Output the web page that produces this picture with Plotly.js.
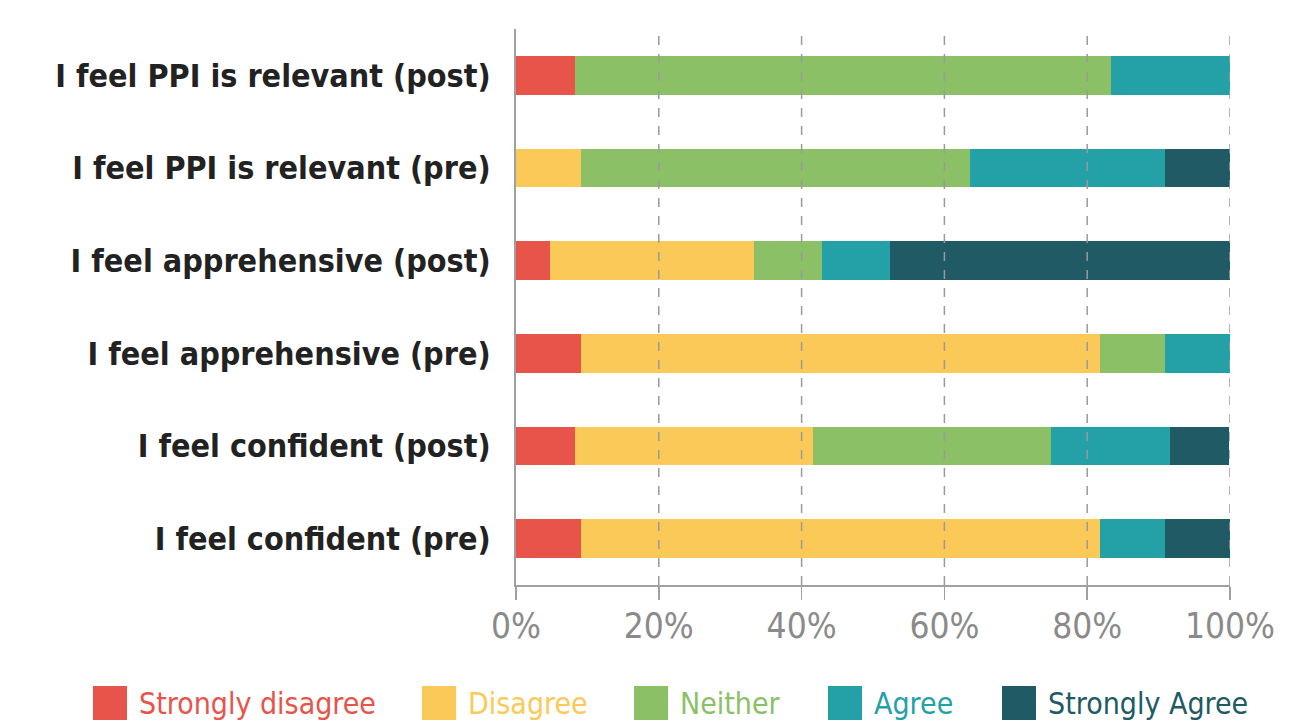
<!DOCTYPE html>
<html>
<head>
<meta charset="utf-8">
<script src="https://cdn.plot.ly/plotly-3.0.1.min.js"></script>
<style>html,body{margin:0;padding:0;background:#fff;}#chart{width:1316px;height:723px;}</style>
</head>
<body>
<div id="chart"></div>
<script>
const categories = [
  "I feel PPI is relevant (post)",
  "I feel PPI is relevant (pre)",
  "I feel apprehensive (post)",
  "I feel apprehensive (pre)",
  "I feel confident (post)",
  "I feel confident (pre)"
];
const seriesNames = ["Strongly disagree", "Disagree", "Neither", "Agree", "Strongly Agree"];
const stronglyDisagree = [8.3, 0, 4.8, 9.1, 8.3, 9.1];
const disagree         = [0, 9.1, 28.6, 72.7, 33.3, 72.7];
const neither          = [75.0, 54.5, 9.5, 9.1, 33.3, 0];
const agree            = [16.7, 27.3, 9.5, 9.1, 16.7, 9.1];
const stronglyAgree    = [0, 9.1, 47.6, 0, 8.3, 9.1];
const tickValues = [0, 20, 40, 60, 80, 100];
const tickLabels = ["0%", "20%", "40%", "60%", "80%", "100%"];

const colors = ["#E8534A", "#FBC957", "#8BC066", "#24A1A6", "#205A65"];
const seriesValues = [stronglyDisagree, disagree, neither, agree, stronglyAgree];

const narrow = "Liberation Sans Narrow, DejaVu Sans Condensed, Arial Narrow, sans-serif";

const traces = seriesValues.map((vals, i) => ({
  type: "bar",
  orientation: "h",
  name: seriesNames[i],
  y: categories,
  x: vals,
  marker: {color: colors[i], line: {width: 0}},
  hoverinfo: "x+name"
}));

// plot-area geometry in pixels for the custom legend
const L = 516, R = 86, T = 29, B = 138;
const W = 1316 - L - R, H = 723 - T - B;
const px = x => (x - L) / W;
const py = y => (723 - B - y) / H;

const legendSquareX = [93, 422, 634, 828, 1002];
const shapes = [];
const annotations = [];
tickValues.filter(v => v > 0).forEach(v => {
  shapes.push({type: "line", xref: "x", yref: "paper", x0: v, x1: v, y0: 0, y1: 1,
    line: {color: "#9a9a9a", width: 1.5, dash: "dash"}, layer: "above"});
});
seriesNames.forEach((n, i) => {
  const x0 = legendSquareX[i];
  shapes.push({type: "rect", xref: "paper", yref: "paper",
    x0: px(x0), x1: px(x0 + 34), y0: py(720), y1: py(686),
    fillcolor: colors[i], line: {width: 0}});
  annotations.push({xref: "paper", yref: "paper", x: px(x0 + 44), y: py(703),
    xanchor: "left", yanchor: "middle", showarrow: false, text: n,
    font: {family: narrow, size: 30, color: colors[i]}});
});

const layout = {
  width: 1316, height: 723,
  margin: {l: L, r: R, t: T, b: B},
  paper_bgcolor: "#fff", plot_bgcolor: "#fff",
  barmode: "stack",
  bargap: 0.58,
  showlegend: false,
  xaxis: {
    range: [0, 100], tickvals: tickValues, ticktext: tickLabels,
    showgrid: false, zeroline: false,
    showline: true, linecolor: "#a0a0a0", linewidth: 2,
    ticks: "outside", ticklen: 13, tickcolor: "#a0a0a0", tickwidth: 1.5,
    ticklabelstandoff: -4,
    tickfont: {family: narrow, size: 35, color: "#8a8a8a"},
    fixedrange: true
  },
  yaxis: {
    autorange: "reversed",
    showgrid: false, zeroline: false,
    showline: true, linecolor: "#a0a0a0", linewidth: 2,
    ticks: "", ticklabelstandoff: 17,
    tickfont: {family: narrow, size: 32, color: "#222", weight: "bold"},
    fixedrange: true
  },
  shapes: shapes,
  annotations: annotations
};

Plotly.newPlot("chart", traces, layout, {displayModeBar: false, staticPlot: true});
</script>
</body>
</html>
